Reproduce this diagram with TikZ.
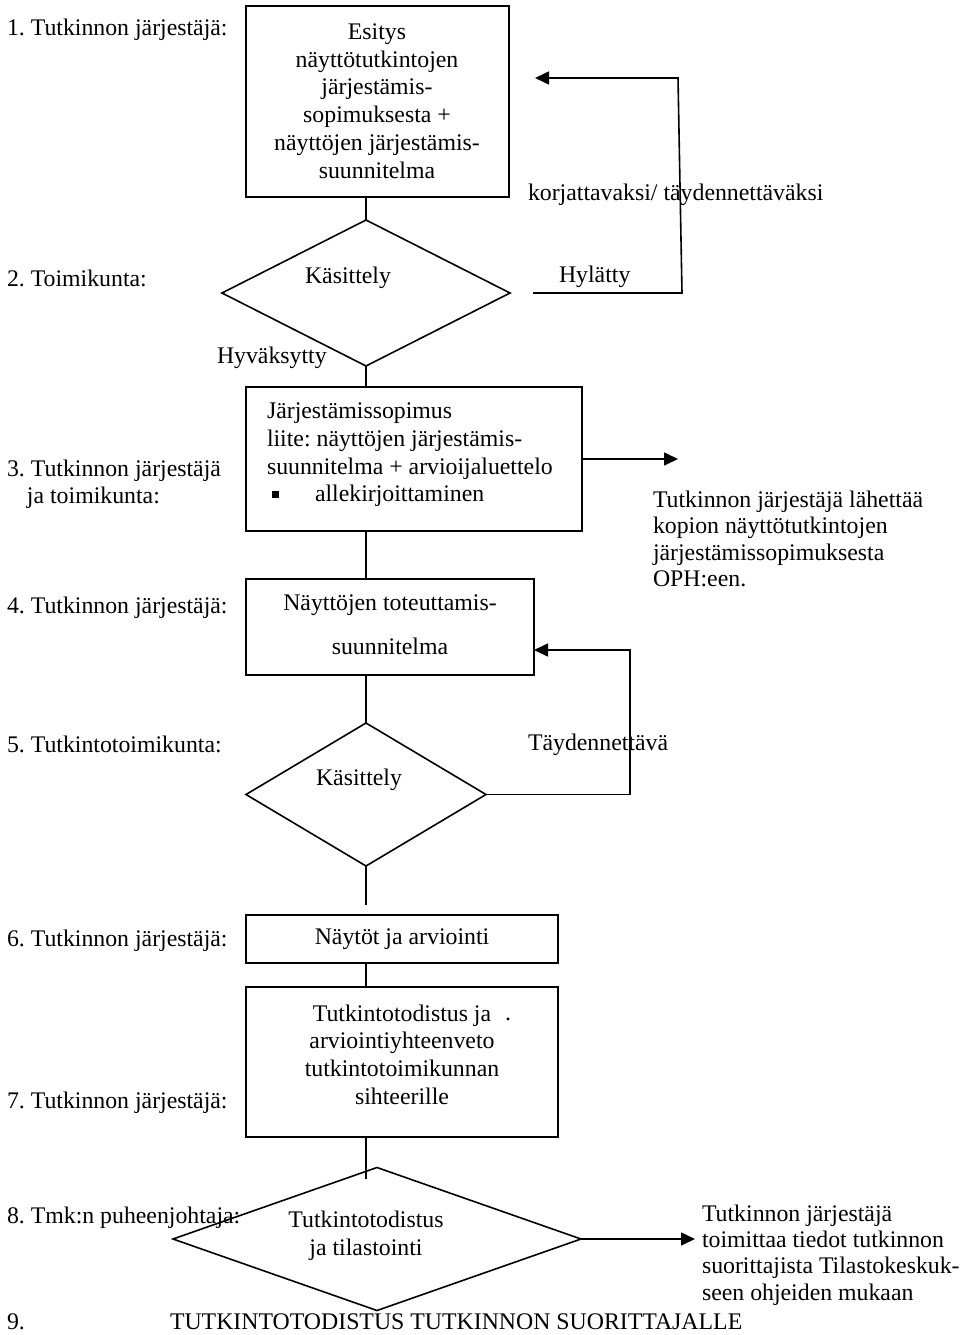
\documentclass[tikz,border=0pt]{standalone}
\usepackage{fontspec}
\setmainfont{Liberation Serif}
\usetikzlibrary{shapes.geometric,arrows.meta}
\frenchspacing
\begin{document}
\begin{tikzpicture}[x=1pt,y=-1pt,
  every node/.style={font=\fontsize{23.8}{27.7}\selectfont, inner sep=0pt, outer sep=0pt},
  procbox/.style={draw, line width=1.6pt, rectangle, align=center},
  decision/.style={draw, diamond, line width=1.6pt},
  lbl/.style={anchor=west, align=left},
  conn/.style={line width=1.6pt},
  arr/.style={conn, -{Triangle[length=14pt,width=13pt]}}
]
\useasboundingbox (0,0) rectangle (974,1335);

% left column labels
\node[lbl] (l1) at (7,30) {1. Tutkinnon järjestäjä:};
\node[lbl] (l2) at (7,278) {2. Toimikunta:};
\node[lbl] (l3) at (7,471) {3. Tutkinnon järjestäjä};
\node[lbl] (l3b) at (27,498) {ja toimikunta:};
\node[lbl] (l4) at (7,608) {4. Tutkinnon järjestäjä:};
\node[lbl] (l5) at (7,744) {5. Tutkintotoimikunta:};
\node[lbl] (l6) at (7,941) {6. Tutkinnon järjestäjä:};
\node[lbl] (l7) at (7,1103) {7. Tutkinnon järjestäjä:};
\node[lbl] (l8) at (7,1218) {8. Tmk:n puheenjohtaja:};
\node[lbl] (l9) at (7,1322) {9.};
\node[lbl] (final) at (170,1322) {TUTKINTOTODISTUS TUTKINNON SUORITTAJALLE};

% step 1
\node[procbox, minimum width=263pt, minimum height=191pt] (b1) at (377.5,101.5) {};
\node[align=center] (b1t) at (377,101) {Esitys\\näyttötutkintojen\\järjestämis-\\sopimuksesta +\\näyttöjen järjestämis-\\suunnitelma};

% step 2
\node[decision, minimum width=288pt, minimum height=146pt] (d1) at (366,293) {};
\node (d1t) at (348,278) {Käsittely};
\draw[conn] (d1.north |- b1.south) -- (d1.north);

\coordinate (h1) at (533,293);
\coordinate (h2) at (682,293);
\coordinate (h3) at (678,78);
\coordinate (h4) at (535,78);
\draw[arr] (h1) -- (h2) -- (h3) -- (h4);
\node[lbl] (hyl) at (559,277) {Hylätty};
\node[lbl] (korj) at (528,195) {korjattavaksi/ täydennettäväksi};
\node[lbl] (hyv) at (217,358) {Hyväksytty};

% step 3
\node[procbox, minimum width=336pt, minimum height=144pt] (b3) at (414,459) {};
\node[lbl] (b3t) at (267,455) {Järjestämissopimus\\liite: näyttöjen järjestämis-\\suunnitelma + arvioijaluettelo\\\hspace*{5pt}\rule[4pt]{7pt}{7pt}\hspace*{36pt}allekirjoittaminen};
\draw[conn] (d1.south) -- (d1.south |- b3.north);
\coordinate (o3) at (678,459);
\draw[arr] (b3.east) -- (o3);
\node[lbl, font=\fontsize{23.8}{26.4}\selectfont] (n3) at (653,539) {Tutkinnon järjestäjä lähettää\\kopion näyttötutkintojen\\järjestämissopimuksesta\\OPH:een.};

% step 4
\node[procbox, minimum width=288pt, minimum height=96pt] (b4) at (390,627) {};
\node[align=center] (b4t) at (390,625) {Näyttöjen toteuttamis-\\[16.3pt]suunnitelma};
\draw[conn] (d1.south |- b3.south) -- (d1.south |- b4.north);

% step 5
\node[decision, minimum width=240pt, minimum height=143pt] (d2) at (366,794.5) {};
\node (d2t) at (359,780) {Käsittely};
\draw[conn] (d2.north |- b4.south) -- (d2.north);
\coordinate (t1) at (630,794.5);
\coordinate (t2) at (630,650);
\draw[arr] (d2.east) -- (t1) -- (t2) -- (t2 -| b4.east);
\node[lbl] (tayd) at (528,745) {Täydennettävä};
\coordinate (e2) at (366,905);
\draw[conn] (d2.south) -- (e2);

% step 6
\node[procbox, minimum width=312pt, minimum height=48pt] (b6) at (402,939) {Näytöt ja arviointi};

% step 7
\node[procbox, minimum width=312pt, minimum height=150pt] (b7) at (402,1062) {};
\node[align=center] (b7t) at (402,1054.5) {Tutkintotodistus ja\\arviointiyhteenveto\\tutkintotoimikunnan\\sihteerille};
\node[anchor=base] (dot) at (508,1020) {.};
\draw[conn] (d2.south |- b6.south) -- (d2.south |- b7.north);

% step 8
\node[decision, minimum width=408pt, minimum height=143pt] (d8) at (377,1239) {};
\node[align=center] (d8t) at (366,1236) {Tutkintotodistus\\ja tilastointi};
\coordinate (f2) at (366,1179);
\draw[conn] (d2.south |- b7.south) -- (f2);
\coordinate (o8) at (695,1239);
\draw[arr] (d8.east) -- (o8);
\node[lbl, font=\fontsize{23.8}{26.3}\selectfont] (n8) at (702,1255) {Tutkinnon järjestäjä\\toimittaa tiedot tutkinnon\\suorittajista Tilastokeskuk-\\seen ohjeiden mukaan};
\end{tikzpicture}
\end{document}
